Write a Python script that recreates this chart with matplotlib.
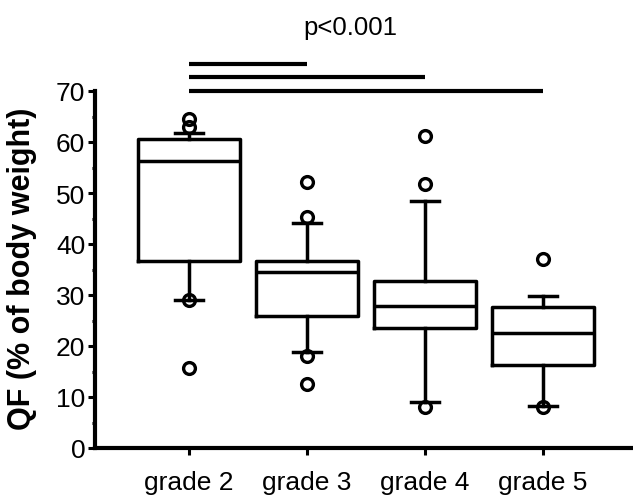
import matplotlib
matplotlib.use("Agg")
import matplotlib.pyplot as plt

plt.rcParams['font.family'] = ['Liberation Sans', 'DejaVu Sans']

categories = ["grade 2", "grade 3", "grade 4", "grade 5"]
medians = [56.3, 34.5, 27.8, 22.5]
q1 = [36.7, 25.9, 23.5, 16.3]
q3 = [60.6, 36.7, 32.7, 27.6]
whisker_low = [29.0, 18.8, 9.0, 8.2]
whisker_high = [61.8, 44.1, 48.4, 29.8]
outliers = [[64.5, 62.9, 29.0, 15.7],
            [52.2, 45.3, 18.0, 12.5],
            [61.2, 51.8, 8.0],
            [37.1, 8.0]]
yticks = [0, 10, 20, 30, 40, 50, 60, 70]
ylabel = "QF (% of body weight)"
p_text = "p<0.001"
comparisons = [(0, 1), (0, 2), (0, 3)]

fig = plt.figure(figsize=(6.33, 5.02), dpi=100)
ax = fig.add_axes([95/633, 53/502, 538/633, 357/502])

stats = []
for i, c in enumerate(categories):
    stats.append(dict(med=medians[i], q1=q1[i], q3=q3[i],
                      whislo=whisker_low[i], whishi=whisker_high[i],
                      fliers=outliers[i], label=c))

lw = 2.5
positions = list(range(1, len(categories) + 1))
ax.bxp(stats, positions=positions, widths=0.87, capwidths=0.23,
       boxprops=dict(color='black', linewidth=lw),
       medianprops=dict(color='black', linewidth=lw),
       whiskerprops=dict(color='black', linewidth=lw),
       capprops=dict(color='black', linewidth=lw),
       flierprops=dict(marker='o', markerfacecolor='none', markeredgecolor='black',
                       markersize=8.5, markeredgewidth=2.4, linestyle='none'),
       showfliers=True, manage_ticks=False)

ax.set_xlim(0.203, 4.763)
ax.set_ylim(0, 70)
ax.set_xticks(positions)
ax.set_xticklabels(categories, fontsize=19)
ax.set_yticks(yticks)
ax.set_yticklabels([str(t) for t in yticks], fontsize=19)
ax.set_yticks([5, 15, 25, 35, 45, 55, 65], minor=True)
ax.tick_params(axis='y', which='major', length=5, width=2.2, direction='out', pad=2)
ax.tick_params(axis='y', which='minor', length=2, width=2.2, direction='out')
ax.tick_params(axis='x', which='major', length=5, width=2.2, direction='out', pad=11)

for s in ['top', 'right']:
    ax.spines[s].set_visible(False)
for s in ['left', 'bottom']:
    ax.spines[s].set_linewidth(3)

ax.set_ylabel(ylabel, fontsize=22, fontweight='bold')
ax.yaxis.set_label_coords(-0.108, 0.505)

# significance bars (in data coords, above the axes)
bar_ys = [75.3, 72.8, 70.0]
for (a, b), yb in zip(comparisons, bar_ys):
    ax.plot([positions[a], positions[b]], [yb, yb], color='black', linewidth=3,
            clip_on=False, solid_capstyle='butt')
ax.text(2.37, 82.5, p_text, ha='center', va='center', fontsize=18.5)

fig.savefig("out.png", dpi=100)
